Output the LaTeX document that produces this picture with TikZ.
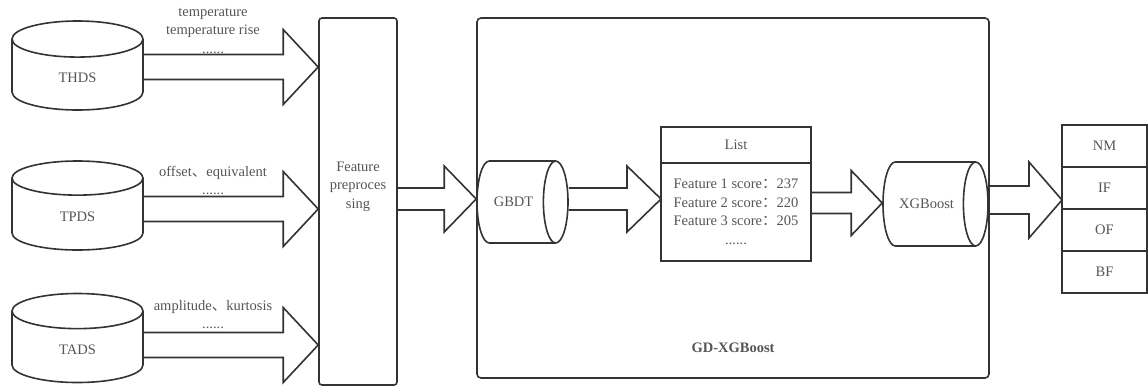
\documentclass[tikz,border=0pt]{standalone}
\usepackage{fontspec}
\setmainfont{Liberation Serif}
\newfontfamily\cjk{Noto Sans CJK SC}
\usepackage{tikz}
\usetikzlibrary{positioning,shapes.geometric,calc}
\definecolor{linegray}{HTML}{333333}
\definecolor{textgray}{HTML}{555555}

\begin{document}
\begin{tikzpicture}[
    x=1pt, y=-1pt,
    every node/.style={font=\fontsize{14.5}{18.5}\selectfont, text=textgray},
    db/.style={cylinder, shape border rotate=90, draw=linegray, line width=1.6pt, aspect=0.81, minimum width=131pt, minimum height=89pt, anchor=shape center},
    model/.style={cylinder, draw=linegray, line width=1.6pt, aspect=1.5, anchor=shape center},
    frame/.style={rectangle, rounded corners=4pt, draw=linegray, line width=1.6pt},
    cell/.style={rectangle, draw=linegray, line width=1.6pt, inner sep=0pt, outer sep=0pt},
    lbl/.style={align=center},
    fat/.style args={#1/#2/#3}{draw=linegray, line width=1.6pt, line join=miter,
        to path={let \p1=(\tikztostart), \p2=(\tikztotarget) in
        (\x1,\y1+#1) -- (\x2-#3,\y1+#1) -- (\x2-#3,\y1+#2) -- (\x2,\y1)
        -- (\x2-#3,\y1-#2) -- (\x2-#3,\y1-#1) -- (\x1,\y1-#1)}}
]
\useasboundingbox (0,0) rectangle (1148,386);

% data sources
\node[db] (thds) at (77.5,65.5) {THDS};
\node[db] (tpds) at (77.5,205.5) {TPDS};
\node[db] (tads) at (77.5,338) {TADS};

\node[lbl] (lblthds) at (213,31) {temperature\\temperature rise\\......};
\node[lbl] (lbltpds) at (213,180.5) {offset{\cjk 、}equivalent\\......};
\node[lbl] (lbltads) at (213,314.5) {amplitude{\cjk 、}kurtosis\\......};

% preprocessing
\node[frame, rounded corners=3pt, minimum width=78pt, minimum height=367pt] (prep) at (358,201.5) {};
\node[lbl] (preptext) at ([yshift=15pt]prep.center) {Feature\\preproces\\sing};

% GD-XGBoost block
\node[frame, minimum width=512pt, minimum height=360pt] (gd) at (733,198) {};
\node[font=\fontsize{14.5}{18.5}\selectfont\bfseries] (gdname) at ([yshift=31pt]gd.south) {GD-XGBoost};

\node[model, minimum height=91pt, minimum width=82pt] (gbdt) at (522.5,202) {GBDT};
\node[cell, minimum width=150pt, minimum height=36pt] (listhead) at (736,145) {List};
\node[cell, lbl, minimum width=150pt, minimum height=98pt, below=0pt of listhead] (listbody)
    {Feature 1 score{\cjk ：}237\\Feature 2 score{\cjk ：}220\\Feature 3 score{\cjk ：}205\\......};
\node[model, minimum height=105pt, minimum width=84pt] (xgb) at (935.5,204) {XGBoost};

% fault classes
\node[cell, minimum width=85pt, minimum height=42pt] (outnm) at (1104.5,146) {NM};
\node[cell, minimum width=85pt, minimum height=42pt, below=0pt of outnm] (outif) {IF};
\node[cell, minimum width=85pt, minimum height=42pt, below=0pt of outif] (outof) {OF};
\node[cell, minimum width=85pt, minimum height=42pt, below=0pt of outof] (outbf) {BF};

% block arrows
\draw[fat=12.5pt/37.5pt/35pt] ($(thds.shape center -| thds.east)+(0,1.5)$) to (prep.west |- {$(thds.shape center)+(0,1.5)$});
\draw[fat=12.5pt/37.5pt/35pt] ($(tpds.shape center -| tpds.east)+(0,3.5)$) to (prep.west |- {$(tpds.shape center)+(0,3.5)$});
\draw[fat=12.5pt/37.5pt/35pt] ($(tads.shape center -| tads.east)+(0,7)$) to (prep.west |- {$(tads.shape center)+(0,7)$});
\draw[fat=11pt/33pt/32pt] ($(prep.east |- gbdt.shape center)+(0,-3)$) to ($(gbdt.west)+(0,-3)$);
\draw[fat=11pt/33pt/34pt] ($(gbdt.east)+(0,-3)$) to ($(listbody.west |- gbdt.east)+(0,-3)$);
\draw[fat=10.5pt/32.5pt/31pt] ($(listbody.east |- xgb.shape center)+(0,-1)$) to ($(xgb.west)+(0,-1)$);
\draw[fat=14pt/38pt/33pt] ($(xgb.east)+(0,-4)$) to ($(outif.west |- xgb.east)+(0,-4)$);

\end{tikzpicture}
\end{document}
